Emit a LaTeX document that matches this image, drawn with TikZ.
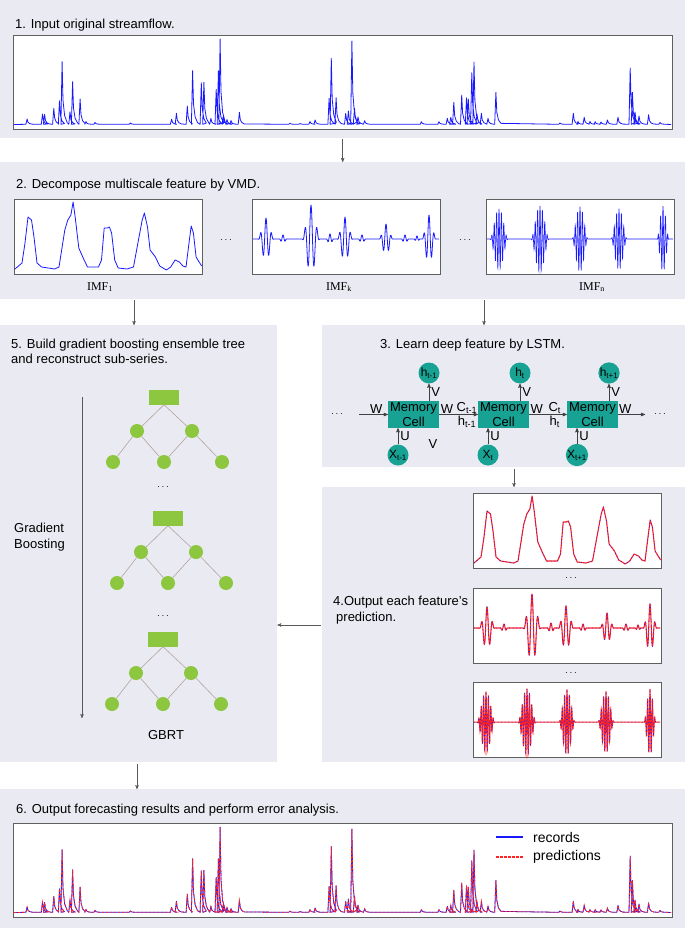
\documentclass[tikz,border=0pt]{standalone}
\usepackage{fontspec}
\setmainfont{Liberation Sans}
\newfontfamily\imffont{Liberation Serif}
\usepackage{tikz}
\usetikzlibrary{positioning,arrows}

\definecolor{panelbg}{RGB}{234,234,242}
\definecolor{framegray}{RGB}{95,95,95}
\definecolor{cellteal}{RGB}{24,162,147}
\definecolor{leafgreen}{RGB}{141,198,63}
\definecolor{branchgray}{RGB}{178,164,156}
\definecolor{seriesblue}{RGB}{25,25,255}
\definecolor{seriesred}{RGB}{255,35,35}

% streamflow peaks: position/top
\newcommand{\peaklist}{27.1/119, 42.5/114, 44.6/114.5, 53.8/108.3, 59.5/100.7,
  62.1/61.7, 70.0/111.7, 72.6/81.7, 80.1/99, 86/121.5, 95/122.5, 130.4/123,
  171.6/119.3, 176.4/113.3, 187.3/106, 192.6/70.7, 201.3/82.7, 203.9/82.3,
  210.9/118.3, 216.2/89.3, 218.4/70.7, 220.1/39, 223.2/116.7, 227/119.5,
  231/120.5, 239.4/112.3, 290/123.2, 300/123.5, 310/121.5, 315.1/120,
  329.1/98.3, 331.3/58.3, 336.1/97.7, 345.7/113.3, 348.4/111, 351.9/41,
  354.5/108.3, 358/117, 364.6/120.7, 421.4/121.7, 439.0/121.7, 447.3/118.3,
  450.8/117.3, 453.8/102.3, 461.7/95, 466.5/97.7, 468.3/99, 471.8/72.7,
  474.0/62, 477/114, 481.4/113.3, 488.0/118.3, 495.9/92.3, 560/123,
  573.3/113.3, 578/121.5, 584.2/117.3, 590/121.5, 595.2/121.7, 601/122,
  607.4/120, 618.0/117.3, 630.2/68, 632.4/92.3, 635/112, 639.0/116,
  648.6/114.7, 660/122.5}

\newcommand{\flowseries}[1]{%
  \draw[#1] (14,124.5) \foreach \pk/\tp in \peaklist {
    -- ({\pk-1.2},124.3) -- (\pk,\tp) -- ({\pk+0.9},{0.62*124.3+0.38*\tp})
    -- ({\pk+2.5},{0.86*124.3+0.14*\tp}) -- ({\pk+5},{0.97*124.3+0.03*\tp})
  } -- (671,124.5);}

\newcommand{\imfonecurve}[1]{%
  \draw[#1] (15,269) -- (22,263) -- (25,243) -- (28,217) -- (31.5,220) -- (34,237)
    -- (37,263) -- (41.6,267) -- (54.7,269) -- (59,267) -- (64.8,230) -- (67.8,220)
    -- (70.9,215) -- (73.1,202) -- (75.3,218) -- (78.8,248) -- (83.2,258) -- (87.5,267)
    -- (98.5,267) -- (101.5,260) -- (104.2,228) -- (107.2,228) -- (109.4,227)
    -- (111.6,233) -- (114.7,260) -- (118.2,268) -- (126.9,269) -- (133.5,267)
    -- (137.9,243) -- (142.2,220) -- (144.4,213) -- (147.5,227) -- (150.1,250)
    -- (155.4,257) -- (159.7,266) -- (166.3,270) -- (170.7,267) -- (175.1,260)
    -- (179.4,262) -- (182.9,266) -- (186,267) -- (189,243) -- (191.2,226)
    -- (193.4,233) -- (196.1,257) -- (199.1,262) -- (201.7,266);}

\newcommand{\imfkcurve}[1]{%
  \draw[#1] (253,239) \foreach \pc/\am/\wd/\fr/\st/\en in
    {266/21/8/65/258/274, 283/4/4/80/279/287, 311/34/9/60/302/320,
     330/5/4/80/326/334, 345/22/8/65/337/353, 362/4/4/80/358/366,
     386/15/7/70/379/393, 405/4/4/80/401/409, 417/3/3/90/414/420,
     429/24/7/70/422/436}
    { -- plot[domain=\st:\en, samples=65] (\x,{239-\am*(1-((\x-\pc)/\wd)^2)^2*cos(\fr*(\x-\pc))}) }
    -- (439,239);}

\newcommand{\imfncurve}[1]{%
  \draw[#1] (487,239) \foreach \pc/\am/\wd/\st/\en in
    {499/31/9/490/508, 540/34/9/531/549, 580/33/8/572/588,
     619/31/8/611/627, 663/33/6/657/669}
    { -- plot[domain=\st:\en, samples=90] (\x,{239-\am*(1-((\x-\pc)/\wd)^2)^2*cos(150*(\x-\pc))}) }
    -- (673,239);}

\begin{document}
\begin{tikzpicture}[x=1pt,y=-1pt,
  panel/.style={fill=panelbg,inner sep=0,anchor=north west},
  frame/.style={draw=framegray,line width=0.9pt,fill=white,inner sep=0,anchor=north west},
  title/.style={font=\fontsize{13}{15}\selectfont,anchor=base west,inner sep=0},
  txt/.style={font=\fontsize{13}{15.5}\selectfont,align=left,inner sep=0},
  flow/.style={->,>=stealth',draw=black!65,line width=0.5pt},
  wire/.style={->,>=stealth',draw=black!75,line width=0.6pt},
  cell/.style={rectangle,fill=cellteal,minimum width=51pt,minimum height=27pt,inner sep=0,
    align=center,font=\fontsize{13}{14.5}\selectfont},
  unit/.style={circle,fill=cellteal,minimum size=21pt,inner sep=0,font=\fontsize{12}{12}\selectfont},
  lbl/.style={font=\fontsize{13}{13}\selectfont,inner sep=0.5pt},
  root/.style={rectangle,fill=leafgreen,minimum width=30pt,minimum height=15pt,inner sep=0},
  leaf/.style={circle,fill=leafgreen,minimum size=14pt,inner sep=0},
  branch/.style={draw=branchgray,line width=0.6pt},
  etc/.style={font=\fontsize{10}{10}\selectfont,inner sep=0},
  imflbl/.style={font=\imffont\fontsize{12}{12}\selectfont,anchor=base,inner sep=0},
  obsline/.style={draw=seriesblue,line width=0.8pt,line join=round},
  predline/.style={draw=seriesred,line width=0.8pt,dash pattern=on 2.5pt off 1.5pt},
  fitline/.style={draw=seriesred,line width=1.1pt,line join=round},
  dotline/.style={draw=seriesblue,line width=0.5pt,dash pattern=on 1pt off 2.5pt}
]
\useasboundingbox (0,0) rectangle (685,928);

% panels
\node[panel,minimum width=685pt,minimum height=138pt] (input) at (0,0) {};
\node[panel,minimum width=685pt,minimum height=137pt] (vmd) at (0,162) {};
\node[panel,minimum width=277pt,minimum height=437pt] (gbrt) at (0,325) {};
\node[panel,minimum width=363pt,minimum height=142pt] (lstm) at (322,325) {};
\node[panel,minimum width=363pt,minimum height=275pt] (pred) at (322,487) {};
\node[panel,minimum width=685pt,minimum height=139pt] (result) at (0,789) {};

% 1. input
\node[title] (inputtitle) at (15,28.5) {1. Input original streamflow.};
\node[frame,minimum width=659pt,minimum height=94pt] (flowin) at (13,35) {};
\flowseries{obsline}

% 2. vmd
\node[title] (vmdtitle) at (16,188.5) {2. Decompose multiscale feature by VMD.};
\node[frame,minimum width=188pt,minimum height=75pt] (imfa) at (14,199) {};
\node[frame,minimum width=188pt,minimum height=75pt] (imfk) at (252,199) {};
\node[frame,minimum width=188pt,minimum height=75pt] (imfn) at (486,199) {};
\imfonecurve{obsline}
\imfkcurve{obsline}
\imfncurve{draw=seriesblue,line width=0.6pt}
\node[imflbl] (imfalbl) at (100,290) {IMF\textsubscript{1}};
\node[imflbl] (imfklbl) at (339,290) {IMF\textsubscript{k}};
\node[imflbl] (imfnlbl) at (592,290) {IMF\textsubscript{n}};
\node[etc] at (226,240) {$\cdots$};
\node[etc] at (465,240) {$\cdots$};

% 3. lstm
\node[title] (lstmtitle) at (380,348) {3. Learn deep feature by LSTM.};
\node[cell] (cella) at (413.5,414.5) {Memory\\Cell};
\node[cell] (cellb) at (503.5,414.5) {Memory\\Cell};
\node[cell] (cellc) at (592.5,414.5) {Memory\\Cell};
\node[unit] (houta) at (429,373) {h\textsubscript{t-1}};
\node[unit] (houtb) at (520,373) {h\textsubscript{t}};
\node[unit] (houtc) at (609,373) {h\textsubscript{t+1}};
\node[unit] (xina) at (398,455) {X\textsubscript{t-1}};
\node[unit] (xinb) at (488,455) {X\textsubscript{t}};
\node[unit] (xinc) at (577,455) {X\textsubscript{t+1}};
\foreach \c in {a,b,c}{
  \draw[wire] (cell\c.north -| hout\c) -- node[lbl,right=1.5pt] {V} (hout\c);
  \draw[wire] (xin\c) -- node[lbl,right=1.5pt] {U} (xin\c |- cell\c.south);
}
\coordinate (lstmin) at (359,414.5);
\coordinate (lstmout) at (645,414.5);
\node[etc] at (337,414.5) {$\cdots$};
\node[etc] at (660,414.5) {$\cdots$};
\draw[wire] (lstmin) -- node[lbl,pos=0.6,above=0.5pt] {W} (cella);
\draw[wire] (cella) -- node[lbl,pos=0.2,above=0.5pt] {W}
  node[lbl,pos=0.72,above=0.5pt] {C\textsubscript{t-1}}
  node[lbl,pos=0.72,below=0.5pt] {h\textsubscript{t-1}} (cellb);
\draw[wire] (cellb) -- node[lbl,pos=0.2,above=0.5pt] {W}
  node[lbl,pos=0.68,above=0.5pt] {C\textsubscript{t}}
  node[lbl,pos=0.68,below=0.5pt] {h\textsubscript{t}} (cellc);
\draw[wire] (cellc) -- node[lbl,pos=0.26,above=0.5pt] {W} (lstmout);
\node[lbl] (vstray) at (433,444) {V};

% 4. predictions
\node[frame,minimum width=188pt,minimum height=75pt] (preda) at (473,493) {};
\node[frame,minimum width=188pt,minimum height=75pt] (predk) at (473,588) {};
\node[frame,minimum width=188pt,minimum height=75pt] (predn) at (473,682) {};
\begin{scope}[shift={(459,294)}]
  \imfonecurve{fitline}
  \imfonecurve{dotline}
\end{scope}
\begin{scope}[shift={(221,389)}]
  \imfkcurve{fitline}
  \imfkcurve{dotline}
\end{scope}
\begin{scope}[shift={(-13,483)}]
  \imfncurve{draw=seriesred,line width=1pt}
  \imfncurve{dotline}
\end{scope}
\node[etc] at (571,578) {$\cdots$};
\node[etc] at (571,673) {$\cdots$};
\node[txt,anchor=west] (predtext) at (333,610) {4.Output each feature's\\\hspace*{3pt}prediction.};

% 5. gradient boosting
\node[title] (gbrttitle) at (11,348) {5. Build gradient boosting ensemble tree};
\node[title] (gbrttitleb) at (11,363) {and reconstruct sub-series.};
\foreach \tr/\cx/\cy in {a/164/397, b/168/518, c/163/639}{
  \node[root] (root\tr) at (\cx,\cy) {};
  \node[leaf] (mida\tr) at ({\cx-27},{\cy+34}) {};
  \node[leaf] (midb\tr) at ({\cx+28},{\cy+34}) {};
  \node[leaf] (lowa\tr) at ({\cx-51},{\cy+65}) {};
  \node[leaf] (lowb\tr) at (\cx,{\cy+65}) {};
  \node[leaf] (lowc\tr) at ({\cx+58},{\cy+65}) {};
  \draw[branch] (root\tr.south) -- (mida\tr) (root\tr.south) -- (midb\tr)
    (mida\tr) -- (lowa\tr) (mida\tr) -- (lowb\tr)
    (midb\tr) -- (lowb\tr) (midb\tr) -- (lowc\tr);
}
\node[etc] at (163,487) {$\cdots$};
\node[etc] at (163,616) {$\cdots$};
\coordinate (boosttop) at (82,397);
\coordinate (boostend) at (82,718);
\draw[flow] (boosttop) -- (boostend);
\node[txt,anchor=west] (boosttext) at (14,537) {Gradient\\Boosting};
\node[lbl] (gbrtname) at (166,735) {GBRT};

% 6. result
\node[title] (resulttitle) at (16,813) {6. Output forecasting results and perform error analysis.};
\node[frame,minimum width=659pt,minimum height=94pt] (flowout) at (13,823) {};
\begin{scope}[shift={(0,788)}]
  \flowseries{obsline}
  \flowseries{predline}
\end{scope}
\coordinate (recsa) at (496,837);
\coordinate (recsb) at (523,837);
\coordinate (predsa) at (496,857);
\coordinate (predsb) at (523,857);
\draw[obsline,line width=1.4pt] (recsa) -- (recsb);
\draw[predline,line width=1.4pt] (predsa) -- (predsb);
\node[font=\fontsize{14}{14}\selectfont,anchor=west,inner sep=0] (reclbl) at (533,837) {records};
\node[font=\fontsize{14}{14}\selectfont,anchor=west,inner sep=0] (predlbl) at (533,857) {predictions};

% connectors between stages
\coordinate (vmdleft) at (134,300);
\coordinate (vmdright) at (484,300);
\coordinate (lstmbottom) at (514,469);
\coordinate (predleft) at (321,625);
\coordinate (gbrtbottom) at (137,764);
\draw[flow] ([yshift=-1pt]input.south) -- (vmd.north);
\draw[flow] (vmdleft) -- (vmdleft |- gbrt.north);
\draw[flow] (vmdright) -- (vmdright |- lstm.north);
\draw[flow] (lstmbottom) -- (lstmbottom |- pred.north);
\draw[flow] (predleft) -- (predleft -| gbrt.east);
\draw[flow] (gbrtbottom) -- (gbrtbottom |- result.north);
\end{tikzpicture}
\end{document}
